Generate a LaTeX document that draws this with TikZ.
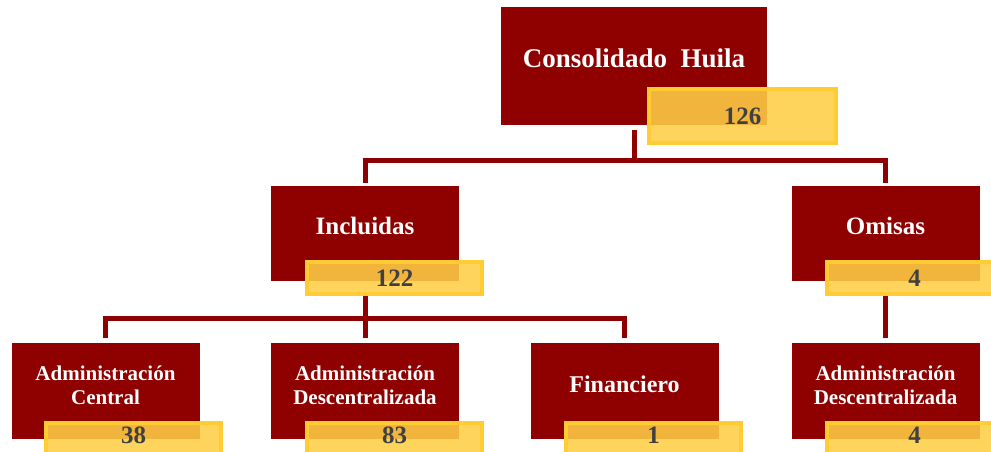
\documentclass[tikz,border=0pt]{standalone}
\usepackage{fontspec}
\setmainfont{Liberation Serif}
\newdimen\pxu \pxu=0.75pt
\definecolor{boxred}{RGB}{143,0,0}
\definecolor{boxyellow}{RGB}{255,207,70}
\definecolor{yellowedge}{RGB}{255,204,51}
\definecolor{numgray}{RGB}{64,64,64}
\pgfdeclarelayer{background}
\pgfsetlayers{background,main}
\newcommand{\upnum}[1]{\raisebox{4\pxu}[\height][\depth]{#1}}
\tikzset{
  redbox/.style={fill=boxred, draw=none, inner sep=0pt, minimum width=188\pxu, minimum height=95\pxu},
  ybox/.style={fill=boxyellow, fill opacity=0.88, text opacity=1, draw=yellowedge, draw opacity=1,
    line width=4\pxu, inner sep=0pt, minimum width=175\pxu, minimum height=32\pxu,
    text=numgray, font=\bfseries\fontsize{18.75}{20}\selectfont},
  conn/.style={draw=boxred, line width=5\pxu},
  lbl/.style={text=white, align=center, inner sep=0pt},
  lbltop/.style={lbl, font=\bfseries\fontsize{20.25}{24}\selectfont},
  lblmid/.style={lbl, font=\bfseries\fontsize{18.75}{22}\selectfont},
  lblbot/.style={lbl, font=\bfseries\fontsize{15.75}{18}\selectfont},
}
\begin{document}
\begin{tikzpicture}[x=0.75pt, y=-0.75pt]
\clip (0,0) rectangle (991,452);
% red boxes
\node[redbox, minimum width=266\pxu, minimum height=118\pxu] (A) at (634,66) {};
\node[redbox] (B) at (365,233.5) {};
\node[redbox] (C) at (885.5,233.5) {};
\node[redbox, minimum height=96\pxu] (D) at (105.5,391) {};
\node[redbox, minimum height=96\pxu] (E) at (365,391) {};
\node[redbox, minimum height=96\pxu] (F) at (624.5,391) {};
\node[redbox, minimum height=96\pxu] (G) at (885.5,391) {};
% labels
\node[lbltop] (tA) at ([yshift=8\pxu]A.center) {Consolidado\ \ Huila};
\node[lblmid] (tB) at ([yshift=7.5\pxu]B.center) {Incluidas};
\node[lblmid] (tC) at ([yshift=7.5\pxu]C.center) {Omisas};
\node[lblbot] (tD) at ([yshift=6\pxu]D.center) {Administración\\Central};
\node[lblbot] (tE) at ([yshift=6\pxu]E.center) {Administración\\Descentralizada};
\node[lblmid, font=\bfseries\fontsize{18}{22}\selectfont] (tF) at ([yshift=7\pxu]F.center) {Financiero};
\node[lblbot] (tG) at ([yshift=6\pxu]G.center) {Administración\\Descentralizada};
% yellow value boxes
\node[ybox, minimum width=187\pxu, minimum height=54\pxu] (nA) at (742.5,116) {126};
\node[ybox] (nB) at (394.5,278) {122};
\node[ybox] (nC) at (914.5,278) {4};
\node[ybox] (nD) at (133.5,439) {\upnum{38}};
\node[ybox] (nE) at (394.5,439) {\upnum{83}};
\node[ybox] (nF) at (653.5,439) {\upnum{1}};
\node[ybox] (nG) at (914.5,439) {\upnum{4}};
% connectors
\coordinate (j1) at (634,161);
\coordinate (j2) at (365,318);
\begin{pgfonlayer}{background}
\fill[white] (0,0) rectangle (991,452);
\draw[conn, shorten <=5\pxu] (A.south) -- (j1);
\draw[conn, shorten <=3\pxu, shorten >=3\pxu] (B.north) |- (j1) -| (C.north);
\draw[conn, shorten >=5\pxu] (B.south |- nB.south) -- (E.north);
\draw[conn, shorten <=5\pxu, shorten >=5\pxu] (D.north) |- (j2) -| (F.north);
\draw[conn, shorten >=5\pxu] (C.south |- nC.south) -- (G.north);
\end{pgfonlayer}
\end{tikzpicture}
\end{document}
